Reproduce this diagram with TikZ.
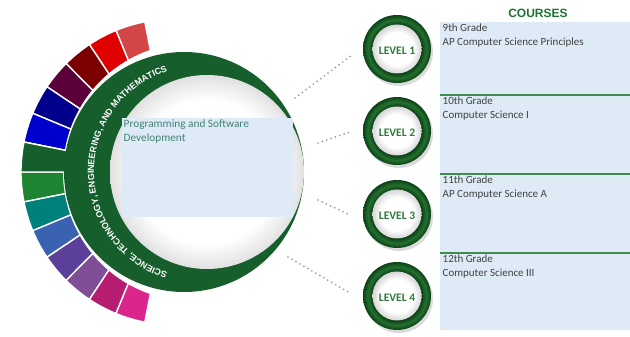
\documentclass[tikz,border=0pt]{standalone}
\usepackage{fontspec}
\setmainfont{Carlito}
\newfontfamily\arialfont{Liberation Sans}
\usetikzlibrary{decorations.text,calc}
\definecolor{ringgreen}{RGB}{22,94,44}
\definecolor{lvdark}{RGB}{12,64,22}
\definecolor{lvmid}{RGB}{36,112,48}
\definecolor{lvtext}{RGB}{48,122,60}
\definecolor{boxblue}{RGB}{222,235,247}
\definecolor{sepgreen}{RGB}{62,140,78}
\definecolor{headgreen}{RGB}{28,118,50}
\definecolor{progtext}{RGB}{68,128,118}
\definecolor{bodytext}{RGB}{64,64,64}
\definecolor{dotgray}{RGB}{150,150,150}
\definecolor{segA}{RGB}{212,70,70}
\definecolor{segB}{RGB}{224,0,0}
\definecolor{segC}{RGB}{124,0,0}
\definecolor{segD}{RGB}{92,0,58}
\definecolor{segE}{RGB}{0,0,138}
\definecolor{segF}{RGB}{0,0,204}
\definecolor{segG}{RGB}{30,132,50}
\definecolor{segH}{RGB}{0,128,122}
\definecolor{segI}{RGB}{58,98,176}
\definecolor{segJ}{RGB}{91,63,152}
\definecolor{segK}{RGB}{127,78,150}
\definecolor{segL}{RGB}{181,30,112}
\definecolor{segM}{RGB}{217,37,140}
\pgfdeclareradialshading{rimshade}{\pgfpoint{0bp}{0bp}}{color(0bp)=(white); color(18.5bp)=(white); color(23bp)=(black!8); color(25bp)=(black!12); color(50bp)=(black!12)}
\pgfdeclareradialshading{ringshade}{\pgfpoint{0bp}{0bp}}{color(0bp)=(lvdark); color(18bp)=(lvdark); color(21.5bp)=(lvmid); color(25bp)=(lvdark); color(50bp)=(lvdark)}
\pgfdeclareradialshading{innershade}{\pgfpoint{0bp}{0bp}}{color(0bp)=(white); color(17bp)=(white); color(25bp)=(black!16); color(50bp)=(black!16)}
\tikzset{
  wedge/.style={draw=white, line width=1.4pt},
  lvring/.style={circle, minimum size=68pt, inner sep=0pt, shading=ringshade},
  lvinner/.style={circle, minimum size=49pt, inner sep=0pt, shading=innershade},
  lvlabel/.style={font=\bfseries\fontsize{11.5}{12}\selectfont, text=lvtext, inner sep=0pt},
  coursebox/.style={rectangle, fill=boxblue, minimum width=190pt, inner sep=0pt, anchor=north west},
  coursetext/.style={anchor=north west, align=left, inner sep=1.5pt, text=bodytext, font=\fontsize{11}{14}\selectfont},
  sepline/.style={draw=sepgreen, line width=1.6pt},
  dotline/.style={draw=dotgray, line width=1.9pt, line cap=round, dash pattern=on 0pt off 4.6pt}
}
\begin{document}
\begin{tikzpicture}[x=1pt,y=1pt]
\useasboundingbox (0,0) rectangle (630,337);
\fill[white] (0,0) rectangle (630,337);
\coordinate (O1) at (174,165);
\coordinate (O2) at (192,165);
\coordinate (OG) at (184,165);
\coordinate (OT) at (200,165);
\coordinate (OW) at (207,165);
% coloured segments
\foreach \c [count=\k from 0] in {segA,segB,segC,segD,segE,segF,ringgreen,segG,segH,segI,segJ,segK,segL,segM} {
  \pgfmathsetmacro\aa{101+\k*11.2857}
  \pgfmathsetmacro\ab{\aa+11.2857}
  \filldraw[wedge, fill=\c] (O1) -- ++(\aa:153pt) arc[start angle=\aa, end angle=\ab, radius=153pt] -- cycle;
}
\fill[white] (O2) circle[radius=129pt];
% tab joined to the ring
\pgfmathsetmacro\ta{101+6*11.2857}
\pgfmathsetmacro\tb{\ta+11.2857}
\filldraw[wedge, fill=ringgreen] (O1) -- ++(\ta:153pt) arc[start angle=\ta, end angle=\tb, radius=153pt] -- cycle;
% green ring
\fill[ringgreen] (OG) circle[radius=120pt];
\path[decorate, decoration={text along path, text align=center, text color=white,
  text={|\arialfont\bfseries\fontsize{8.9}{10}\selectfont|SCIENCE, TECHNOLOGY, ENGINEERING, AND MATHEMATICS}}]
  ($(OT)+(253:106pt)$) arc[start angle=253, end angle=107, radius=106pt];
% white disc
\shade[shading=rimshade] (OW) circle[radius=97pt];
% programming box
\node[rectangle, fill=boxblue, minimum width=171pt, minimum height=99pt, inner sep=0pt, anchor=north west] (prog) at (122,219) {};
\node[anchor=north west, align=left, inner sep=1.5pt, text=progtext, font=\fontsize{11.3}{14}\selectfont] (progt) at (prog.north west) {Programming and Software\\Development};
% courses
\node[font=\arialfont\bfseries\fontsize{12}{14}\selectfont, text=headgreen, inner sep=0pt] (head) at (538,324) {COURSES};
\node[coursebox, minimum height=72.5pt] (c1) at (440,315) {};
\node[coursebox, minimum height=79pt] (c2) at (440,242.5) {};
\node[coursebox, minimum height=79pt] (c3) at (440,163.5) {};
\node[coursebox, minimum height=77.5pt] (c4) at (440,84.5) {};
\draw[sepline] (c1.south west) -- (c1.south east);
\draw[sepline] (c2.south west) -- (c2.south east);
\draw[sepline] (c3.south west) -- (c3.south east);
\node[coursetext] (t1) at ($(c1.north west)+(1,0)$) {9th Grade\\AP Computer Science Principles};
\node[coursetext] (t2) at ($(c2.north west)+(1,-0.5)$) {10th Grade\\Computer Science I};
\node[coursetext] (t3) at ($(c3.north west)+(1,-0.5)$) {11th Grade\\AP Computer Science A};
\node[coursetext] (t4) at ($(c4.north west)+(1,-0.5)$) {12th Grade\\Computer Science III};
% levels
\foreach \i/\y in {1/288,2/206,3/123,4/41} {
  \fill[black, opacity=0.14] (399,\y-3) circle[radius=34pt];
  \node[lvring] (lv\i) at (397,\y) {};
  \node[lvinner] (lvin\i) at (lv\i) {};
  \node[lvlabel] (lvt\i) at ($(lv\i)+(0,-2)$) {LEVEL \i};
}
% dotted connectors
\coordinate (s1) at (295,239);
\coordinate (e1) at (352,282);
\coordinate (s2) at (318,194);
\coordinate (e2) at (350,205);
\coordinate (s3) at (318,137);
\coordinate (e3) at (350,122);
\coordinate (s4) at (288,80);
\coordinate (e4) at (350,44);
\draw[dotline] (s1) -- (e1);
\draw[dotline] (s2) -- (e2);
\draw[dotline] (s3) -- (e3);
\draw[dotline] (s4) -- (e4);
\end{tikzpicture}
\end{document}
